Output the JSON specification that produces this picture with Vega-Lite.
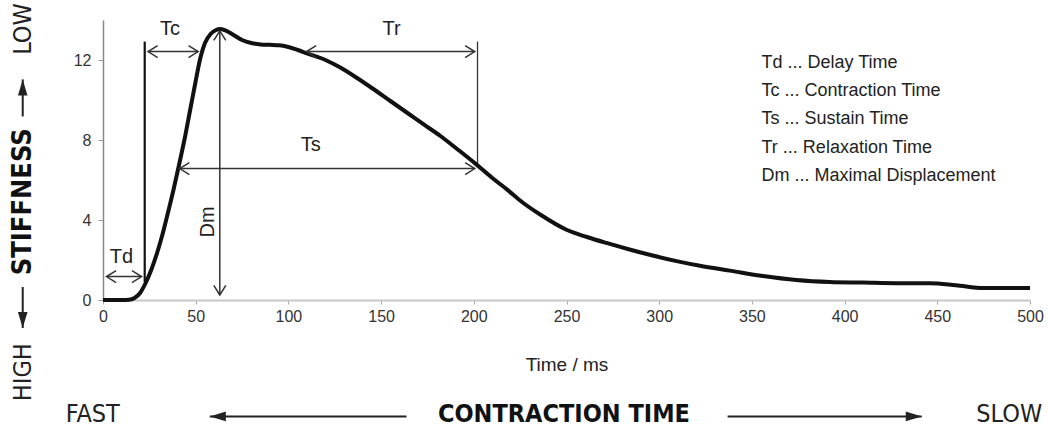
{
  "$schema": "https://vega.github.io/schema/vega-lite/v6.json",
  "width": 927,
  "height": 280,
  "autosize": {"type": "none"},
  "padding": {"left": 103, "top": 20, "right": 18, "bottom": 130},
  "background": "white",
  "config": {"view": {"stroke": null}, "axis": {"grid": false}},
  "datasets": {
    "curve": [
      {"x": 0, "y": 0}, {"x": 10, "y": 0}, {"x": 14, "y": 0.01}, {"x": 17, "y": 0.1}, {"x": 20, "y": 0.35},
      {"x": 23, "y": 0.85}, {"x": 26, "y": 1.5}, {"x": 29, "y": 2.3}, {"x": 32, "y": 3.25}, {"x": 35, "y": 4.35},
      {"x": 38, "y": 5.5}, {"x": 41, "y": 6.75}, {"x": 44, "y": 8.05}, {"x": 47, "y": 9.5}, {"x": 50, "y": 10.95},
      {"x": 52.5, "y": 12.1}, {"x": 55, "y": 12.85}, {"x": 58, "y": 13.3}, {"x": 61, "y": 13.5},
      {"x": 63, "y": 13.55}, {"x": 66, "y": 13.48}, {"x": 70, "y": 13.28}, {"x": 75, "y": 13.0}, {"x": 80, "y": 12.85},
      {"x": 85, "y": 12.78}, {"x": 90, "y": 12.76}, {"x": 95, "y": 12.74}, {"x": 100, "y": 12.65}, {"x": 105, "y": 12.5},
      {"x": 110, "y": 12.33}, {"x": 120, "y": 12.0}, {"x": 128, "y": 11.62}, {"x": 137, "y": 11.1}, {"x": 145, "y": 10.6},
      {"x": 155, "y": 9.95}, {"x": 165, "y": 9.3}, {"x": 173, "y": 8.78}, {"x": 182, "y": 8.2}, {"x": 191, "y": 7.55},
      {"x": 201.5, "y": 6.77}, {"x": 210, "y": 6.1}, {"x": 218, "y": 5.52}, {"x": 226, "y": 4.9}, {"x": 236, "y": 4.26},
      {"x": 250, "y": 3.51}, {"x": 261, "y": 3.15}, {"x": 272, "y": 2.84}, {"x": 285, "y": 2.5}, {"x": 297, "y": 2.21},
      {"x": 310, "y": 1.93}, {"x": 322, "y": 1.71}, {"x": 338, "y": 1.47}, {"x": 356, "y": 1.2}, {"x": 374, "y": 1.0},
      {"x": 392, "y": 0.9}, {"x": 410, "y": 0.87}, {"x": 428, "y": 0.84}, {"x": 446, "y": 0.84}, {"x": 460, "y": 0.74},
      {"x": 475, "y": 0.6}, {"x": 500, "y": 0.6}
    ],
    "segs": [
      {"kind": "arrow", "x": 1.9, "y": 1.17, "x2": 20.8, "y2": 1.17},
      {"kind": "arrow", "x": 24.3, "y": 12.42, "x2": 51.3, "y2": 12.42},
      {"kind": "arrow", "x": 109.8, "y": 12.42, "x2": 200.5, "y2": 12.42},
      {"kind": "arrow", "x": 41.4, "y": 6.57, "x2": 200.5, "y2": 6.57},
      {"kind": "arrow", "x": 63.0, "y": 13.46, "x2": 63.0, "y2": 0.25},
      {"kind": "tc", "x": 22.5, "y": 0.9, "x2": 22.5, "y2": 12.92},
      {"kind": "tr", "x": 202.0, "y": 6.77, "x2": 202.0, "y2": 12.92},
      {"kind": "outer", "x": 57.6, "y": -5.82, "x2": 163.7, "y2": -5.82},
      {"kind": "outer", "x": 336.9, "y": -5.82, "x2": 441.6, "y2": -5.82},
      {"kind": "outer", "x": -43.3, "y": 9.18, "x2": -43.3, "y2": 11.03},
      {"kind": "outer", "x": -43.3, "y": 0.65, "x2": -43.3, "y2": -1.4}
    ],
    "heads": [
      {"head": "chev-left", "x": 1.9, "y": 1.17},
      {"head": "chev-right", "x": 20.8, "y": 1.17},
      {"head": "chev-left", "x": 24.3, "y": 12.42},
      {"head": "chev-right", "x": 51.3, "y": 12.42},
      {"head": "chev-left", "x": 109.8, "y": 12.42},
      {"head": "chev-right", "x": 200.5, "y": 12.42},
      {"head": "chev-left", "x": 41.4, "y": 6.57},
      {"head": "chev-right", "x": 200.5, "y": 6.57},
      {"head": "chev-up", "x": 63.0, "y": 13.46},
      {"head": "chev-down", "x": 63.0, "y": 0.25},
      {"head": "tri-left", "x": 57.6, "y": -5.82},
      {"head": "tri-right", "x": 441.6, "y": -5.82},
      {"head": "tri-up", "x": -43.3, "y": 11.03},
      {"head": "tri-down", "x": -43.3, "y": -1.4}
    ],
    "labels": [
      {"grp": "sym", "label": "Td", "x": 9.9, "y": 2.13},
      {"grp": "sym", "label": "Tc", "x": 36.1, "y": 13.54},
      {"grp": "sym", "label": "Tr", "x": 155.6, "y": 13.54},
      {"grp": "sym", "label": "Ts", "x": 112.0, "y": 7.74},
      {"grp": "dm", "label": "Dm", "x": 56.7, "y": 3.9},
      {"grp": "legend", "label": "Td ... Delay Time", "x": 355.2, "y": 11.87},
      {"grp": "legend", "label": "Tc ... Contraction Time", "x": 355.2, "y": 10.45},
      {"grp": "legend", "label": "Ts ... Sustain Time", "x": 355.2, "y": 9.03},
      {"grp": "legend", "label": "Tr ... Relaxation Time", "x": 355.2, "y": 7.61},
      {"grp": "legend", "label": "Dm ... Maximal Displacement", "x": 355.2, "y": 6.18},
      {"grp": "big", "label": "FAST", "x": -5.5, "y": -5.72},
      {"grp": "big", "label": "SLOW", "x": 488.8, "y": -5.72},
      {"grp": "bigbold", "label": "CONTRACTION TIME", "x": 248.6, "y": -5.72},
      {"grp": "side", "label": "LOW", "x": -43.3, "y": 13.55},
      {"grp": "side", "label": "HIGH", "x": -43.3, "y": -3.61},
      {"grp": "sidebold", "label": "STIFFNESS", "x": -43.3, "y": 4.91}
    ]
  },
  "encoding": {
    "x": {
      "field": "x", "type": "quantitative",
      "scale": {"domain": [0, 500], "nice": false, "zero": false},
      "axis": {
        "values": [0, 50, 100, 150, 200, 250, 300, 350, 400, 450, 500],
        "title": "Time / ms", "domainColor": "#c8c8c8", "domainWidth": 2,
        "tickColor": "#aaaaaa", "tickSize": 4, "labelFlush": false,
        "labelFont": "Liberation Sans", "labelFontSize": 16, "labelColor": "#333333", "labelPadding": 4,
        "titleFont": "Liberation Sans", "titleFontSize": 19, "titleFontWeight": "normal",
        "titleColor": "#222222", "titlePadding": 31
      }
    },
    "y": {
      "field": "y", "type": "quantitative",
      "scale": {"domain": [0, 14], "nice": false, "zero": false},
      "axis": {
        "values": [0, 4, 8, 12], "title": null, "domainColor": "#888888", "domainWidth": 1.5,
        "tickColor": "#999999", "tickSize": 5, "labelFont": "Liberation Sans", "labelFontSize": 16,
        "labelColor": "#333333", "labelPadding": 7
      }
    }
  },
  "layer": [
    {
      "data": {"name": "segs"},
      "transform": [{"filter": "datum.kind === 'arrow'"}],
      "mark": {"type": "rule", "color": "#333333", "strokeWidth": 1.5},
      "encoding": {"x2": {"field": "x2"}, "y2": {"field": "y2"}}
    },
    {
      "data": {"name": "segs"},
      "transform": [{"filter": "datum.kind === 'tc'"}],
      "mark": {"type": "rule", "color": "#111111", "strokeWidth": 2.2},
      "encoding": {"x2": {"field": "x2"}, "y2": {"field": "y2"}}
    },
    {
      "data": {"name": "segs"},
      "transform": [{"filter": "datum.kind === 'tr'"}],
      "mark": {"type": "rule", "color": "#333333", "strokeWidth": 1.3},
      "encoding": {"x2": {"field": "x2"}, "y2": {"field": "y2"}}
    },
    {
      "data": {"name": "segs"},
      "transform": [{"filter": "datum.kind === 'outer'"}],
      "mark": {"type": "rule", "color": "#222222", "strokeWidth": 2},
      "encoding": {"x2": {"field": "x2"}, "y2": {"field": "y2"}}
    },
    {
      "data": {"name": "curve"},
      "mark": {"type": "line", "color": "#111111", "strokeWidth": 4, "interpolate": "monotone"},
      "encoding": {}
    },
    {
      "data": {"name": "heads"},
      "transform": [{"filter": "indexof(datum.head, 'chev') === 0"}],
      "mark": {"type": "point", "filled": false, "stroke": "#333333", "strokeWidth": 1.5, "size": 144, "opacity": 1},
      "encoding": {
        "shape": {
          "field": "head", "type": "nominal", "legend": null,
          "scale": {
            "domain": ["chev-left", "chev-right", "chev-up", "chev-down", "tri-left", "tri-right", "tri-up", "tri-down"],
            "range": ["M1.6,-1L0,0L1.6,1", "M-1.6,-1L0,0L-1.6,1", "M-1,1.6L0,0L1,1.6", "M-1,-1.6L0,0L1,-1.6",
                      "M0,0L2,-0.6L2,0.6Z", "M0,0L-2,-0.6L-2,0.6Z", "M0,0L-0.6,2L0.6,2Z", "M0,0L-0.6,-2L0.6,-2Z"]
          }
        }
      }
    },
    {
      "data": {"name": "heads"},
      "transform": [{"filter": "indexof(datum.head, 'tri') === 0"}],
      "mark": {"type": "point", "filled": true, "color": "#222222", "size": 256, "opacity": 1},
      "encoding": {
        "shape": {
          "field": "head", "type": "nominal", "legend": null,
          "scale": {
            "domain": ["chev-left", "chev-right", "chev-up", "chev-down", "tri-left", "tri-right", "tri-up", "tri-down"],
            "range": ["M1.6,-1L0,0L1.6,1", "M-1.6,-1L0,0L-1.6,1", "M-1,1.6L0,0L1,1.6", "M-1,-1.6L0,0L1,-1.6",
                      "M0,0L2,-0.6L2,0.6Z", "M0,0L-2,-0.6L-2,0.6Z", "M0,0L-0.6,2L0.6,2Z", "M0,0L-0.6,-2L0.6,-2Z"]
          }
        }
      }
    },
    {
      "data": {"name": "labels"},
      "transform": [{"filter": "datum.grp === 'sym'"}],
      "mark": {"type": "text", "font": "Liberation Sans", "fontSize": 20, "color": "#222222", "align": "center", "baseline": "middle"},
      "encoding": {"text": {"field": "label"}}
    },
    {
      "data": {"name": "labels"},
      "transform": [{"filter": "datum.grp === 'dm'"}],
      "mark": {"type": "text", "font": "Liberation Sans", "fontSize": 20, "color": "#222222", "align": "center", "baseline": "middle", "angle": 270},
      "encoding": {"text": {"field": "label"}}
    },
    {
      "data": {"name": "labels"},
      "transform": [{"filter": "datum.grp === 'legend'"}],
      "mark": {"type": "text", "font": "Liberation Sans", "fontSize": 18, "color": "#222222", "align": "left", "baseline": "middle"},
      "encoding": {"text": {"field": "label"}}
    },
    {
      "data": {"name": "labels"},
      "transform": [{"filter": "datum.grp === 'big'"}],
      "mark": {"type": "text", "font": "DejaVu Sans Condensed, sans-serif", "fontSize": 25, "color": "#222222", "align": "center", "baseline": "middle"},
      "encoding": {"text": {"field": "label"}}
    },
    {
      "data": {"name": "labels"},
      "transform": [{"filter": "datum.grp === 'bigbold'"}],
      "mark": {"type": "text", "font": "DejaVu Sans Condensed, sans-serif", "fontSize": 25, "fontWeight": "bold", "color": "#111111", "align": "center", "baseline": "middle"},
      "encoding": {"text": {"field": "label"}}
    },
    {
      "data": {"name": "labels"},
      "transform": [{"filter": "datum.grp === 'side'"}],
      "mark": {"type": "text", "font": "DejaVu Sans Condensed, sans-serif", "fontSize": 25, "color": "#222222", "align": "center", "baseline": "middle", "angle": 270},
      "encoding": {"text": {"field": "label"}}
    },
    {
      "data": {"name": "labels"},
      "transform": [{"filter": "datum.grp === 'sidebold'"}],
      "mark": {"type": "text", "font": "DejaVu Sans Condensed, sans-serif", "fontSize": 27, "fontWeight": "bold", "color": "#111111", "align": "center", "baseline": "middle", "angle": 270},
      "encoding": {"text": {"field": "label"}}
    }
  ]
}
